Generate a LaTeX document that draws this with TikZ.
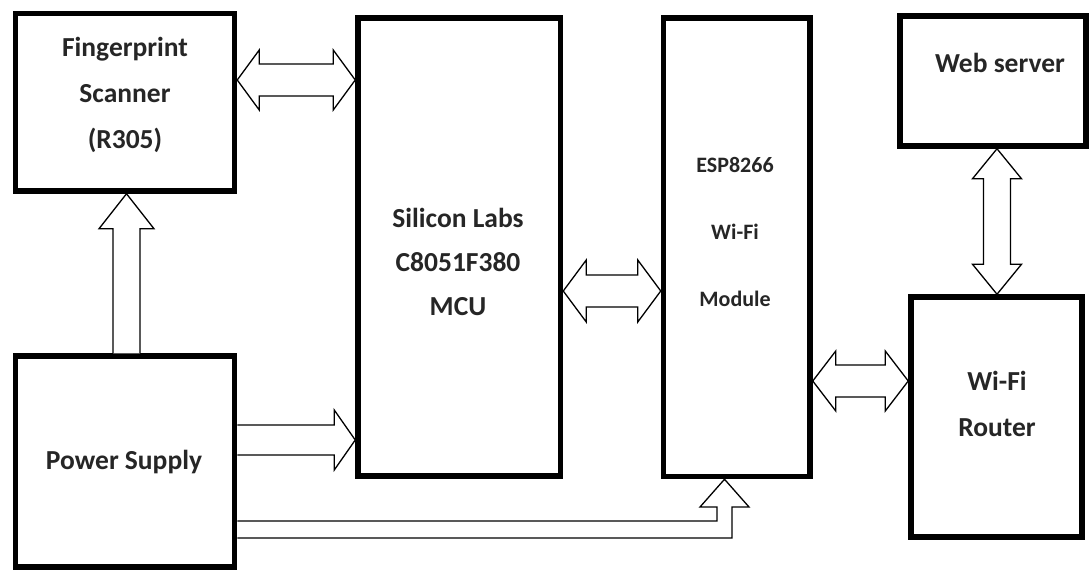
\documentclass[tikz,border=0pt]{standalone}
\usepackage{fontspec}
\setmainfont{Carlito}
\usetikzlibrary{calc}
\tikzset{
  box/.style={draw=black, line width=5.5pt, fill=white, inner sep=0pt},
  lbl/.style={align=center, font=\bfseries\fontsize{27.5}{46}\selectfont, inner sep=0pt, text=black!85},
  fat/.style={draw=black, fill=white, line width=1.3pt, line join=miter},
}
% straight double fat arrow between #1 and #2: shaft half-width #3, head half-width #4, head length #5
\newcommand\dblarrow[5]{%
  \filldraw[fat] (#1)
   -- ($($(#1)!#5!(#2)$)!#4!90:(#2)$)
   -- ($($(#1)!#5!(#2)$)!#3!90:(#2)$)
   -- ($($(#2)!#5!(#1)$)!#3!-90:(#1)$)
   -- ($($(#2)!#5!(#1)$)!#4!-90:(#1)$)
   -- (#2)
   -- ($($(#2)!#5!(#1)$)!#4!90:(#1)$)
   -- ($($(#2)!#5!(#1)$)!#3!90:(#1)$)
   -- ($($(#1)!#5!(#2)$)!#3!-90:(#2)$)
   -- ($($(#1)!#5!(#2)$)!#4!-90:(#2)$)
   -- cycle;}
% single fat arrow from #1 (tail) to #2 (tip)
\newcommand\sglarrow[5]{%
  \fill[white] ($(#1)!#3!90:(#2)$)
   -- ($($(#2)!#5!(#1)$)!#3!-90:(#1)$)
   -- ($($(#2)!#5!(#1)$)!#4!-90:(#1)$)
   -- (#2)
   -- ($($(#2)!#5!(#1)$)!#4!90:(#1)$)
   -- ($($(#2)!#5!(#1)$)!#3!90:(#1)$)
   -- ($(#1)!#3!-90:(#2)$) -- cycle;
  \draw[fat, fill=none] ($(#1)!#3!90:(#2)$)
   -- ($($(#2)!#5!(#1)$)!#3!-90:(#1)$)
   -- ($($(#2)!#5!(#1)$)!#4!-90:(#1)$)
   -- (#2)
   -- ($($(#2)!#5!(#1)$)!#4!90:(#1)$)
   -- ($($(#2)!#5!(#1)$)!#3!90:(#1)$)
   -- ($(#1)!#3!-90:(#2)$);}
\begin{document}
\begin{tikzpicture}[x=1pt, y=-1pt]
\useasboundingbox[fill=white] (0,0) rectangle (1089,570);

% boxes
\node[box, minimum width=219pt, minimum height=177.5pt] (fp)  at (125,102.25) {};
\node[box, minimum width=219pt, minimum height=211pt]   (ps)  at (125,461.5) {};
\node[box, minimum width=202.5pt, minimum height=458pt] (mcu) at (459.25,247) {};
\node[box, minimum width=146.5pt, minimum height=458.5pt] (esp) at (736.75,247.25) {};
\node[box, minimum width=186pt, minimum height=130pt]   (web) at (993,81) {};
\node[box, minimum width=171pt, minimum height=240pt]   (rt)  at (996.5,417) {};

% labels
\node[lbl] (fpt)  at (125,95)  {Fingerprint\\Scanner\\(R305)};
\node[lbl] (pst)  at (124,462) {Power Supply};
\node[lbl, font=\bfseries\fontsize{27.5}{44}\selectfont] (mcut) at (458,262) {Silicon Labs\\C8051F380\\MCU};
\node[lbl, font=\bfseries\fontsize{22}{67}\selectfont] (espt) at (735,232) {ESP8266\\Wi-Fi\\Module};
\node[lbl] (webt) at (1000,63) {Web server};
\node[lbl] (rtt)  at (997,404) {Wi-Fi\\Router};

% connector end points on the box borders
\coordinate (a1) at (fp.east |- 0,80);
\coordinate (a2) at (mcu.west |- 0,80);
\coordinate (b1) at (ps.north -| 126.5,0);
\coordinate (b2) at (fp.south -| 126.5,0);
\coordinate (c1) at (ps.east |- 0,440);
\coordinate (c2) at (mcu.west |- 0,440);
\coordinate (d1) at (mcu.east |- 0,291);
\coordinate (d2) at (esp.west |- 0,291);
\coordinate (e1) at (esp.east |- 0,381);
\coordinate (e2) at (rt.west |- 0,381);
\coordinate (f1) at (web.south -| 997,0);
\coordinate (f2) at (rt.north -| 997,0);

\dblarrow{a1}{a2}{16pt}{30pt}{22pt}
\sglarrow{b1}{b2}{13.5pt}{27.5pt}{35pt}
\sglarrow{c1}{c2}{15pt}{30pt}{21pt}
\dblarrow{d1}{d2}{16pt}{31pt}{23pt}
\dblarrow{e1}{e2}{16pt}{30pt}{23pt}
\dblarrow{f1}{f2}{13.5pt}{24.5pt}{30pt}

% bent arrow from power supply to ESP8266
\coordinate (g0) at (ps.east |- 0,521);
\coordinate (g9) at (ps.east |- 0,538);
\coordinate (gt) at (esp.south -| 724.5,0);
\fill[white] (g0) -- (717,521) -- (717,507) -- (700,507) -- (gt) -- (749,507)
  -- (732,507) -- (732,538) -- (g9) -- cycle;
\draw[fat, fill=none] (g0) -- (717,521) -- (717,507) -- (700,507) -- (gt) -- (749,507)
  -- (732,507) -- (732,538) -- (g9);
\end{tikzpicture}
\end{document}
